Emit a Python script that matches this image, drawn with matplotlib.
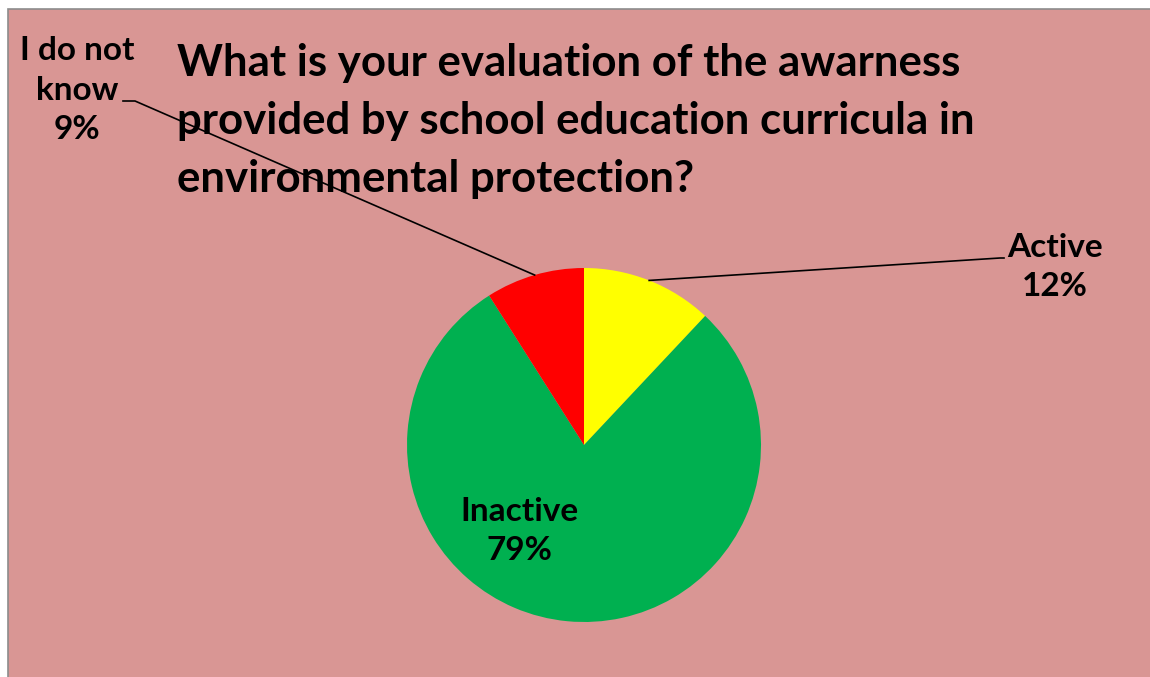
import numpy as np
import matplotlib.pyplot as plt
from matplotlib.patches import Rectangle

labels = ["Active", "Inactive", "I do not\nknow"]
shares = [12, 79, 9]
colors = ["#FFFF00", "#00B050", "#FF0000"]
title = "What is your evaluation of the awarness\nprovided by school education curricula in\nenvironmental protection?"

plt.rcParams['font.family'] = ['Lato', 'DejaVu Sans']

W, H = 1150, 677
fig = plt.figure(figsize=(W / 100, H / 100), dpi=100)
ax = fig.add_axes([0, 0, 1, 1])

# pie in pixel coordinates (y measured upward)
cx, cy, r = 584, H - 445, 177
wedges, _ = ax.pie(shares, colors=colors, startangle=90, counterclock=False,
                   center=(cx, cy), radius=r, wedgeprops=dict(linewidth=0))
for w in wedges:
    w.set_zorder(2)

ax.set_xlim(0, W)
ax.set_ylim(0, H)
ax.set_aspect('auto')
ax.axis('off')

# chart area background and border
ax.add_patch(Rectangle((8, -20), W + 20, H - 9 + 20, facecolor="#D99694", edgecolor="#8C8C8C",
                       linewidth=1.2, zorder=0))

ax.text(177, H - 121, title, fontsize=31.5, fontweight='bold', ha='left', va='center',
        linespacing=1.55, zorder=3)

def mid_point(w):
    a = np.deg2rad((w.theta1 + w.theta2) / 2)
    return cx + r * np.cos(a), cy + r * np.sin(a)

lab_fs = 24

# Active label
px, py = mid_point(wedges[0])
ax.plot([px, 1000, 1004], [py, H - 258, H - 258], color='black', lw=1.2, zorder=4)
ax.text(1055, H - 267, f"{labels[0]}\n{shares[0]}%", fontsize=lab_fs, fontweight='bold',
        ha='center', va='center', linespacing=1.43, zorder=5)

# Inactive label
ax.text(519, H - 531, f"{labels[1]}\n{shares[1]}%", fontsize=lab_fs, fontweight='bold',
        ha='center', va='center', linespacing=1.43, zorder=5)

# I do not know label
px, py = mid_point(wedges[2])
ax.plot([px, 135, 123], [py, H - 101, H - 101], color='black', lw=1.2, zorder=4)
ax.text(77, H - 90, f"{labels[2]}\n{shares[2]}%", fontsize=lab_fs, fontweight='bold',
        ha='center', va='center', linespacing=1.43, zorder=5)

fig.savefig("out.png", dpi=100)
